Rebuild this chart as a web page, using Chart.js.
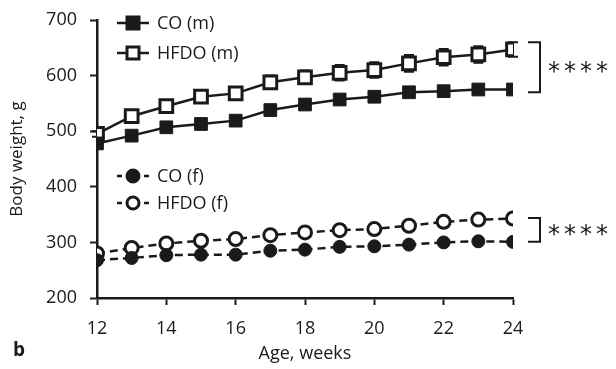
<!DOCTYPE html>
<html><head><meta charset="utf-8">
<script src="https://cdn.jsdelivr.net/npm/chart.js@4.4.1/dist/chart.umd.min.js"></script>
<style>html,body{margin:0;padding:0;background:#fff;}#wrap{width:616px;height:369px;}</style>
</head><body><div id="wrap"><canvas id="c" width="616" height="369"></canvas></div>
<script>
const weeks = [12,13,14,15,16,17,18,19,20,21,22,23,24];
const coM   = [478,492,507,513,519,538,548,557,562,570,572,575,575];
const hfdoM = [495,527,545,562,568,588,597,605,610,622,633,638,647];
const hfdoMErr = [5,8,9,10,10,12,12,14,14,15,15,15,13];
const coF   = [268,272,277,278,278,285,287,292,293,296,300,302,301];
const hfdoF = [280,290,298,303,306,313,318,322,324,330,337,341,343];
const yTicks = [200,300,400,500,600,700];
const xTicks = [12,14,16,18,20,22,24];
const labels = ['CO (m)','HFDO (m)','CO (f)','HFDO (f)'];
const sigLabel = '****';

const FONT = '"Open Sans", sans-serif';
const ink = '#1a1a1a';
const pts = arr => arr.map((v,i)=>({x:weeks[i], y:v}));

const extras = {
  id:'extras',
  beforeDatasetsDraw(chart){
    const ctx = chart.ctx, xs = chart.scales.x, ys = chart.scales.y;
    ctx.save(); ctx.strokeStyle = ink; ctx.lineWidth = 2;
    hfdoM.forEach((v,i)=>{
      const x = xs.getPixelForValue(weeks[i]);
      const t = ys.getPixelForValue(v + hfdoMErr[i]), b = ys.getPixelForValue(v - hfdoMErr[i]);
      ctx.beginPath(); ctx.moveTo(x,t); ctx.lineTo(x,b);
      ctx.moveTo(x-5,t); ctx.lineTo(x+5,t); ctx.moveTo(x-5,b); ctx.lineTo(x+5,b); ctx.stroke();
    });
    ctx.restore();
  },
  afterDraw(chart){
    const ctx = chart.ctx, xs = chart.scales.x, ys = chart.scales.y;
    ctx.save();
    const leg = [
      {y:23, style:'rect', fill:ink, dash:[]},
      {y:53, style:'rect', fill:'#fff', dash:[]},
      {y:176, style:'circle', fill:ink, dash:[5,4]},
      {y:203, style:'circle', fill:'#fff', dash:[5,4]}
    ];
    leg.forEach((l,i)=>{
      ctx.strokeStyle = ink; ctx.lineWidth = 2.5; ctx.setLineDash(l.dash);
      ctx.beginPath(); ctx.moveTo(117,l.y); ctx.lineTo(149,l.y); ctx.stroke();
      ctx.setLineDash([]);
      ctx.fillStyle = l.fill; ctx.lineWidth = 3;
      if(l.style==='rect'){ ctx.beginPath(); ctx.rect(127,l.y-6,12,12); ctx.fill(); ctx.stroke(); }
      else { ctx.beginPath(); ctx.arc(133,l.y,6,0,Math.PI*2); ctx.fill(); ctx.stroke(); }
      ctx.fillStyle = ink; ctx.font = '18px '+FONT; ctx.textBaseline='middle'; ctx.textAlign='left';
      ctx.fillText(labels[i],157,l.y+1);
    });
    const x24 = xs.getPixelForValue(24);
    const br = [[hfdoM[12]+13, coM[12]-5],[hfdoF[12]+1, coF[12]]];
    ctx.strokeStyle = ink; ctx.lineWidth = 2;
    br.forEach(b=>{
      const t = ys.getPixelForValue(b[0]), bo = ys.getPixelForValue(b[1]);
      ctx.beginPath(); ctx.moveTo(x24+15,t); ctx.lineTo(x24+27,t); ctx.lineTo(x24+27,bo); ctx.lineTo(x24+15,bo); ctx.stroke();
      ctx.fillStyle = ink; ctx.font = '24px "DejaVu Sans", sans-serif'; ctx.textBaseline='middle'; ctx.textAlign='left';
      ctx.letterSpacing = '4px';
      ctx.fillText(sigLabel, x24+35, (t+bo)/2+6);
      ctx.letterSpacing = '0px';
    });
    ctx.font = 'bold 19px '+FONT; ctx.textBaseline='middle'; ctx.textAlign='left';
    ctx.fillText('b', 13, 351);
    ctx.restore();
  }
};

new Chart(document.getElementById('c'), {
  type:'line',
  data:{datasets:[
    {label:labels[0], data:pts(coM), borderColor:ink, borderWidth:2.5, pointStyle:'rect', pointRadius:9, pointBackgroundColor:ink, pointBorderColor:ink, pointBorderWidth:1},
    {label:labels[1], data:pts(hfdoM), borderColor:ink, borderWidth:2.5, pointStyle:'rect', pointRadius:9, pointBackgroundColor:'#fff', pointBorderColor:ink, pointBorderWidth:3},
    {label:labels[2], data:pts(coF), borderColor:ink, borderWidth:2.5, borderDash:[8,5], pointStyle:'circle', pointRadius:6.5, pointBackgroundColor:ink, pointBorderColor:ink, pointBorderWidth:1},
    {label:labels[3], data:pts(hfdoF), borderColor:ink, borderWidth:2.5, borderDash:[8,5], pointStyle:'circle', pointRadius:6.5, pointBackgroundColor:'#fff', pointBorderColor:ink, pointBorderWidth:3}
  ]},
  options:{
    responsive:false, animation:false, devicePixelRatio:1,
    layout:{padding:{left:0,right:103,top:20,bottom:0}},
    plugins:{legend:{display:false}, tooltip:{enabled:false}},
    scales:{
      x:{type:'linear', min:12, max:24,
        afterBuildTicks(s){ s.ticks = xTicks.map(v=>({value:v})); },
        afterFit(s){ s.height = 71; s.paddingLeft = 0; s.paddingRight = 0; },
        grid:{drawOnChartArea:false, drawTicks:true, tickLength:7, tickWidth:2, color:ink},
        border:{display:true, color:ink, width:2.5},
        ticks:{color:ink, font:{family:FONT, size:18}, padding:13, maxRotation:0},
        title:{display:true, text:'Age, weeks', color:ink, font:{family:FONT, size:18}, padding:{top:2}}
      },
      y:{min:200, max:700,
        afterBuildTicks(s){ s.ticks = yTicks.map(v=>({value:v})); },
        afterFit(s){ s.width = 97; s.paddingTop = 0; s.paddingBottom = 0; },
        grid:{drawOnChartArea:false, drawTicks:true, tickLength:7, tickWidth:2, color:ink},
        border:{display:true, color:ink, width:2.5},
        ticks:{color:ink, font:{family:FONT, size:18}, padding:13},
        title:{display:true, text:'Body weight, g', color:ink, font:{family:FONT, size:17}, padding:{top:7,bottom:0}}
      }
    }
  },
  plugins:[extras]
});
</script></body></html>
